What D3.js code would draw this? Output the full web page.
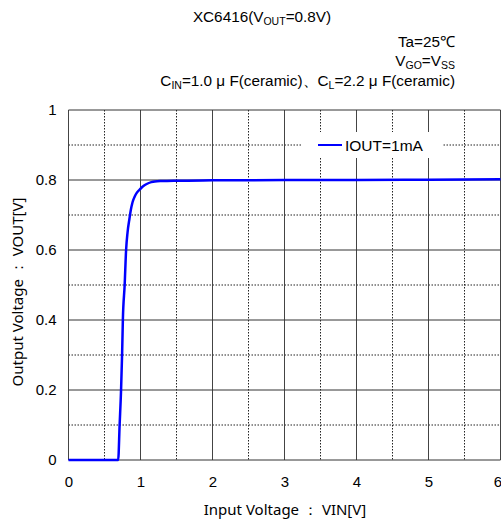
<!DOCTYPE html>
<html><head><meta charset="utf-8">
<script src="https://cdn.jsdelivr.net/npm/d3@7"></script>
<style>body{margin:0;background:#fff}svg{display:block}text{font-family:"Liberation Sans",Arial,sans-serif;fill:#000}</style>
</head><body><div id="c"></div>
<script>
const vin  = [0, 0.69, 0.71, 0.73, 0.745, 0.755, 0.78, 0.80, 0.82, 0.847, 0.866, 0.885, 0.90, 0.92, 0.95, 1.0, 1.05, 1.1, 1.15, 1.2, 1.3, 1.5, 2, 3, 4, 5, 6];
const vout = [0, 0, 0.1, 0.2, 0.306, 0.4, 0.5, 0.6, 0.65, 0.69, 0.715, 0.733, 0.743, 0.753, 0.764, 0.775, 0.784, 0.79, 0.794, 0.796, 0.797, 0.798, 0.799, 0.8, 0.8, 0.801, 0.802];
const xTicks = [0,1,2,3,4,5,6];
const yTicks = [0,0.2,0.4,0.6,0.8,1];
const yTickLabels = ["0","0.2","0.4","0.6","0.8","1"];
const xMinor = [0.5,1.5,2.5,3.5,4.5,5.5];
const yMinor = [0.1,0.3,0.5,0.7,0.9];
const seriesName = "IOUT=1mA";

const W=501,H=520;
const svg=d3.select("#c").append("svg").attr("width",W).attr("height",H);
const x=d3.scaleLinear().domain([0,6]).range([68.5,500.5]);
const y=d3.scaleLinear().domain([0,1]).range([460,110]);

const g=svg.append("g");
g.selectAll(".vx").data(xMinor).join("line").attr("x1",d=>x(d)).attr("x2",d=>x(d)).attr("y1",y(1)).attr("y2",y(0))
 .attr("stroke","#222").attr("stroke-dasharray","1.5,1.5");
g.selectAll(".hy").data(yMinor).join("line").attr("y1",d=>y(d)).attr("y2",d=>y(d)).attr("x1",x(0)).attr("x2",x(6))
 .attr("stroke","#222").attr("stroke-dasharray","1.5,1.5");
g.selectAll(".mx").data(xTicks).join("line").attr("x1",d=>x(d)).attr("x2",d=>x(d)).attr("y1",y(1)).attr("y2",y(0))
 .attr("stroke","#444").attr("stroke-width",1);
g.selectAll(".my").data(yTicks).join("line").attr("y1",d=>y(d)).attr("y2",d=>y(d)).attr("x1",x(0)).attr("x2",x(6))
 .attr("stroke","#333").attr("stroke-width",1);

const xa=svg.append("g").attr("transform",`translate(0,${y(0)})`)
 .call(d3.axisBottom(x).tickValues(xTicks).tickSize(0).tickPadding(16).tickFormat(d3.format("d")));
xa.select(".domain").remove();
xa.selectAll("text").attr("font-size",15).style("font-family","Liberation Sans, Arial, sans-serif")
 .attr("dx",d=>d===6?-3:0);
const ya=svg.append("g").attr("transform",`translate(${x(0)},0)`)
 .call(d3.axisLeft(y).tickValues(yTicks).tickSize(0).tickPadding(12).tickFormat((d,i)=>yTickLabels[i]));
ya.select(".domain").remove();
ya.selectAll("text").attr("font-size",15).style("font-family","Liberation Sans, Arial, sans-serif");

svg.append("rect").attr("x",302).attr("y",132).attr("width",140).attr("height",26).attr("fill","#fff");
svg.append("line").attr("x1",318).attr("x2",342).attr("y1",145).attr("y2",145).attr("stroke","#0000ff").attr("stroke-width",2);
svg.append("text").attr("x",345).attr("y",150.5).attr("font-size",15.5).text(seriesName);

const pts=vin.map((v,i)=>[v,vout[i]]);
svg.append("path").datum(pts).attr("fill","none").attr("stroke","#0000ff").attr("stroke-width",2.5)
 .attr("stroke-linejoin","round")
 .attr("d",d3.line().x(d=>x(d[0])).y(d=>y(d[1])).curve(d3.curveMonotoneX));

const fs=15.3, ss=10.5;
const t1=svg.append("text").attr("x",262).attr("y",22).attr("text-anchor","middle").attr("font-size",fs);
t1.append("tspan").text("XC6416(V");
t1.append("tspan").text("OUT").attr("font-size",ss).attr("dy",3);
t1.append("tspan").text("=0.8V)").attr("dy",-3);
svg.append("text").attr("x",455).attr("y",47).attr("text-anchor","end").attr("font-size",fs).text("Ta=25℃");
const t3=svg.append("text").attr("x",455).attr("y",66).attr("text-anchor","end").attr("font-size",fs);
t3.append("tspan").text("V");t3.append("tspan").text("GO").attr("font-size",ss).attr("dy",3);
t3.append("tspan").text("=V").attr("dy",-3);t3.append("tspan").text("SS").attr("font-size",ss).attr("dy",3);
const t4=svg.append("text").attr("x",455).attr("y",86).attr("text-anchor","end").attr("font-size",fs);
t4.append("tspan").text("C");t4.append("tspan").text("IN").attr("font-size",ss).attr("dy",3);
t4.append("tspan").text("=1.0 μ F(ceramic)、C").attr("dy",-3);t4.append("tspan").text("L").attr("font-size",ss).attr("dy",3);
t4.append("tspan").text("=2.2 μ F(ceramic)").attr("dy",-3);

svg.append("text").attr("x",285).attr("y",515).attr("text-anchor","middle").attr("font-size",15)
 .style("font-family","Noto Sans, sans-serif").text("Input Voltage ： VIN[V]");
svg.append("text").attr("transform","translate(23,292) rotate(-90)").attr("text-anchor","middle").attr("font-size",15)
 .style("font-family","Noto Sans, sans-serif").text("Output Voltage ： VOUT[V]");
</script></body></html>
